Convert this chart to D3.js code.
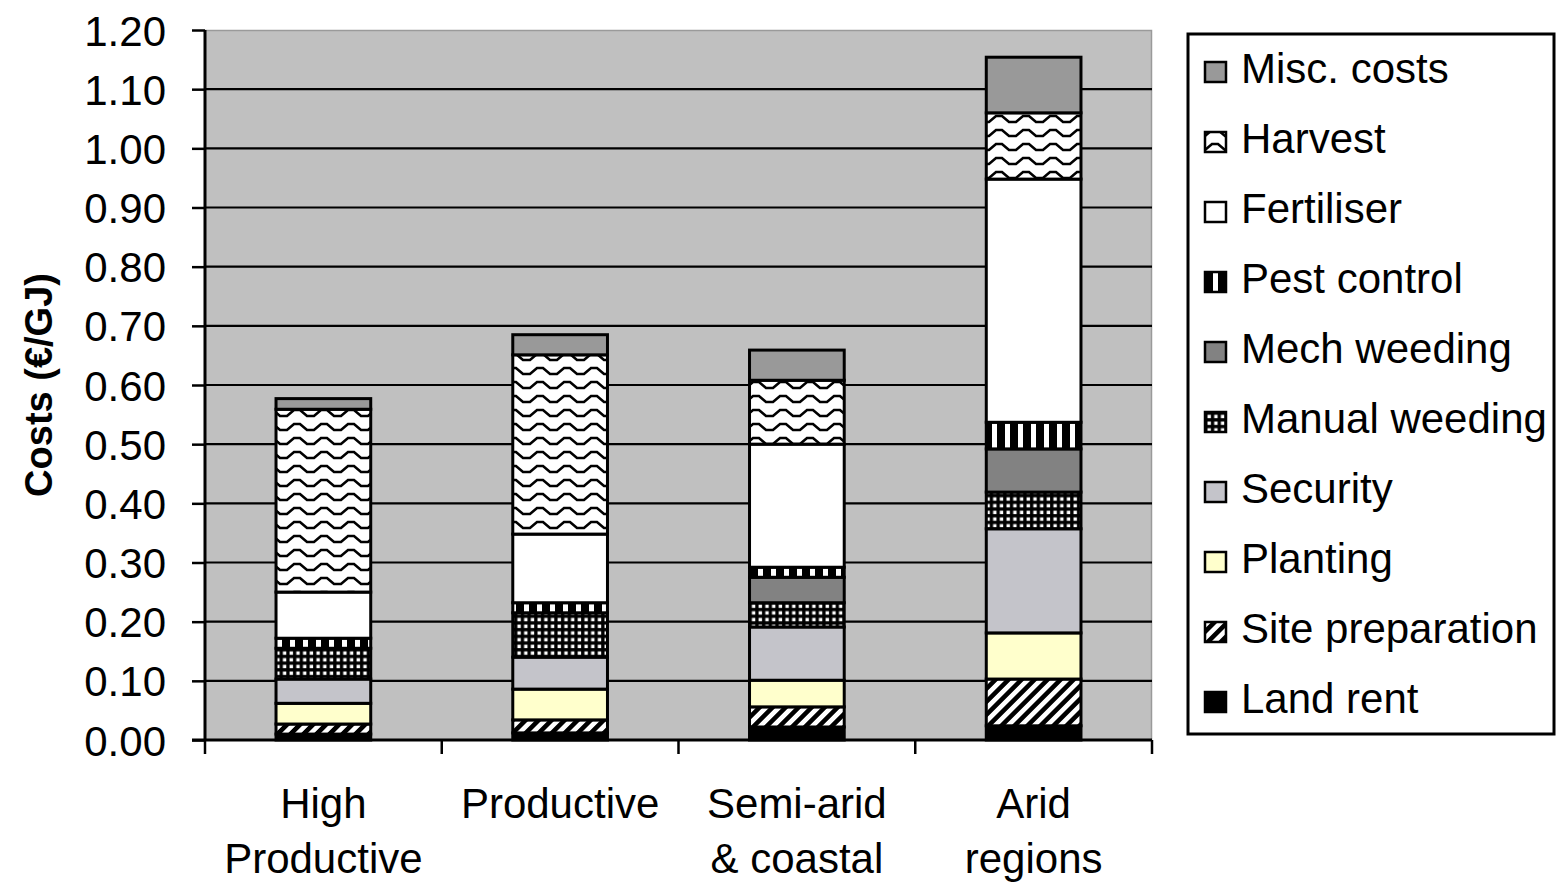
<!DOCTYPE html>
<html>
<head>
<meta charset="utf-8">
<script src="https://cdn.jsdelivr.net/npm/d3@7"></script>
<style>
  html, body { margin: 0; padding: 0; background: #ffffff; }
  svg { display: block; font-family: "Liberation Sans", Arial, sans-serif; }
</style>
</head>
<body>
<svg id="chart" width="1556" height="883"></svg>
<script>
// Cost breakdown per productivity class (€/GJ)
const categories = ["High Productive", "Productive", "Semi-arid & coastal", "Arid regions"];
const categoryLines = [["High", "Productive"], ["Productive"], ["Semi-arid", "& coastal"], ["Arid", "regions"]];

// Cost components, stacked bottom to top
const components = ["Land rent", "Site preparation", "Planting", "Security", "Manual weeding",
                    "Mech weeding", "Pest control", "Fertiliser", "Harvest", "Misc. costs"];

const landRent        = [0.010, 0.012, 0.022, 0.024];
const sitePreparation = [0.017, 0.022, 0.034, 0.079];
const planting        = [0.035, 0.052, 0.045, 0.078];
const security        = [0.041, 0.054, 0.090, 0.176];
const manualWeeding   = [0.052, 0.075, 0.041, 0.062];
const mechWeeding     = [0.000, 0.000, 0.043, 0.073];
const pestControl     = [0.017, 0.017, 0.017, 0.045];
const fertiliser      = [0.078, 0.116, 0.208, 0.411];
const harvest         = [0.309, 0.303, 0.108, 0.112];
const miscCosts       = [0.018, 0.034, 0.051, 0.094];

const yTicks = [0, 0.1, 0.2, 0.3, 0.4, 0.5, 0.6, 0.7, 0.8, 0.9, 1.0, 1.1, 1.2];

const seriesValues = [landRent, sitePreparation, planting, security, manualWeeding,
                      mechWeeding, pestControl, fertiliser, harvest, miscCosts];

const rows = categories.map((c, i) => {
  const r = { category: c };
  components.forEach((k, j) => { r[k] = seriesValues[j][i]; });
  return r;
});

const svg = d3.select("#chart");
const defs = svg.append("defs");

// Fill patterns
function pat(id, w, h, transform) {
  const p = defs.append("pattern").attr("id", id).attr("patternUnits", "userSpaceOnUse")
    .attr("width", w).attr("height", h);
  if (transform) p.attr("patternTransform", transform);
  return p;
}
// Site preparation: diagonal white/black stripes
let p = pat("p-site", 9.2, 10, "rotate(45)");
p.append("rect").attr("width", 9.2).attr("height", 10).attr("fill", "#000");
p.append("rect").attr("width", 4.6).attr("height", 10).attr("fill", "#fff");
// Manual weeding: white dots on black
p = pat("p-manual", 6.7, 6.7);
p.append("rect").attr("width", 6.7).attr("height", 6.7).attr("fill", "#000");
p.append("rect").attr("x", 1.5).attr("y", 1.5).attr("width", 3.4).attr("height", 3.4).attr("fill", "#fff");
// Pest control: vertical stripes
p = pat("p-pest", 13, 10);
p.append("rect").attr("width", 13).attr("height", 10).attr("fill", "#000");
p.append("rect").attr("x", 4).attr("width", 5).attr("height", 10).attr("fill", "#fff");
// Harvest: wavy lines
p = pat("p-harvest", 27, 14);
p.append("rect").attr("width", 27).attr("height", 14).attr("fill", "#fff");
p.append("path").attr("d", "M0,4 L3,4 L10,10 L13.5,10 L17,10 L24,4 L27,4")
  .attr("fill", "none").attr("stroke", "#000").attr("stroke-width", 2.6);

const fills = {
  "Land rent": "#000000",
  "Site preparation": "url(#p-site)",
  "Planting": "#ffffcc",
  "Security": "#c4c4ca",
  "Manual weeding": "url(#p-manual)",
  "Mech weeding": "#828282",
  "Pest control": "url(#p-pest)",
  "Fertiliser": "#ffffff",
  "Harvest": "url(#p-harvest)",
  "Misc. costs": "#999999"
};

// Plot area
const plotLeft = 205, plotRight = 1152, plotTop = 30, plotBottom = 740;

const x = d3.scaleBand().domain(categories).range([plotLeft, plotRight])
  .paddingInner(0.6).paddingOuter(0.3);
const y = d3.scaleLinear().domain([0, 1.2]).range([plotBottom, plotTop]);

svg.append("rect").attr("x", plotLeft).attr("y", plotTop)
  .attr("width", plotRight - plotLeft).attr("height", plotBottom - plotTop)
  .attr("fill", "#c0c0c0");
svg.append("path").attr("d", `M${plotLeft},${plotTop + 0.5}H${plotRight - 0.5}V${plotBottom}`)
  .attr("fill", "none").attr("stroke", "#9a9a9a").attr("stroke-width", 1.5);

// Gridlines
svg.append("g").selectAll("line").data(yTicks.filter(t => t > 0 && t < 1.2)).join("line")
  .attr("x1", plotLeft).attr("x2", plotRight)
  .attr("y1", d => y(d)).attr("y2", d => y(d))
  .attr("stroke", "#000").attr("stroke-width", 2.2);

// Stacked bars
const stack = d3.stack().keys(components)(rows);
svg.append("g").selectAll("g").data(stack).join("g")
  .attr("fill", d => fills[d.key])
  .selectAll("rect").data(d => d.filter(s => s[1] - s[0] > 0)).join("rect")
  .attr("x", d => x(d.data.category))
  .attr("width", x.bandwidth())
  .attr("y", d => y(d[1]))
  .attr("height", d => y(d[0]) - y(d[1]))
  .attr("stroke", "#000").attr("stroke-width", 3);

// Y axis
const yAxis = d3.axisLeft(y).tickValues(yTicks).tickFormat(d3.format(".2f")).tickSize(13).tickPadding(26);
const gy = svg.append("g").attr("transform", `translate(${plotLeft},0)`).call(yAxis);
gy.select(".domain").attr("stroke", "#000").attr("stroke-width", 3).attr("d", `M0,${plotTop}V${plotBottom}`);
gy.selectAll(".tick line").attr("stroke", "#000").attr("stroke-width", 2.5);
gy.selectAll(".tick text").attr("fill", "#000").attr("font-size", 42)
  .attr("font-family", "Liberation Sans, Arial, sans-serif").attr("dy", "0.36em");

// X axis with ticks between categories
const xAxisLine = svg.append("g");
xAxisLine.append("line").attr("x1", plotLeft - 13).attr("x2", plotRight)
  .attr("y1", plotBottom).attr("y2", plotBottom)
  .attr("stroke", "#000").attr("stroke-width", 3);
const step = x.step();
const boundaries = d3.range(categories.length + 1).map(i => plotLeft + i * step);
xAxisLine.selectAll(".xt").data(boundaries).join("line").attr("class", "xt")
  .attr("x1", d => d).attr("x2", d => d).attr("y1", plotBottom).attr("y2", plotBottom + 14)
  .attr("stroke", "#000").attr("stroke-width", 2.5);

// Category labels
const catG = svg.append("g").attr("font-size", 42).attr("text-anchor", "middle").attr("fill", "#000");
categories.forEach((c, i) => {
  const cx = x(c) + x.bandwidth() / 2;
  const t = catG.append("text").attr("x", cx).attr("y", 818);
  categoryLines[i].forEach((line, j) => {
    t.append("tspan").attr("x", cx).attr("dy", j === 0 ? 0 : 55).text(line);
  });
});

// Y axis title
svg.append("text").attr("transform", "translate(52,385) rotate(-90)")
  .attr("text-anchor", "middle").attr("font-size", 38).attr("font-weight", "bold")
  .attr("fill", "#000").text("Costs (€/GJ)");

// Legend, top entry first
const legend = svg.append("g");
legend.append("rect").attr("x", 1188).attr("y", 34).attr("width", 366).attr("height", 700)
  .attr("fill", "#fff").attr("stroke", "#000").attr("stroke-width", 3);
const legendItems = components.slice().reverse();
const li = legend.selectAll(".li").data(legendItems).join("g").attr("class", "li")
  .attr("transform", (d, i) => `translate(0,${70 + i * 70})`);
li.append("rect").attr("x", 1205).attr("y", -8).attr("width", 21).attr("height", 20)
  .attr("fill", d => fills[d]).attr("stroke", "#000").attr("stroke-width", 2.5);
li.append("text").attr("x", 1241).attr("y", 13).attr("font-size", 42).attr("fill", "#000").text(d => d);
</script>
</body>
</html>
